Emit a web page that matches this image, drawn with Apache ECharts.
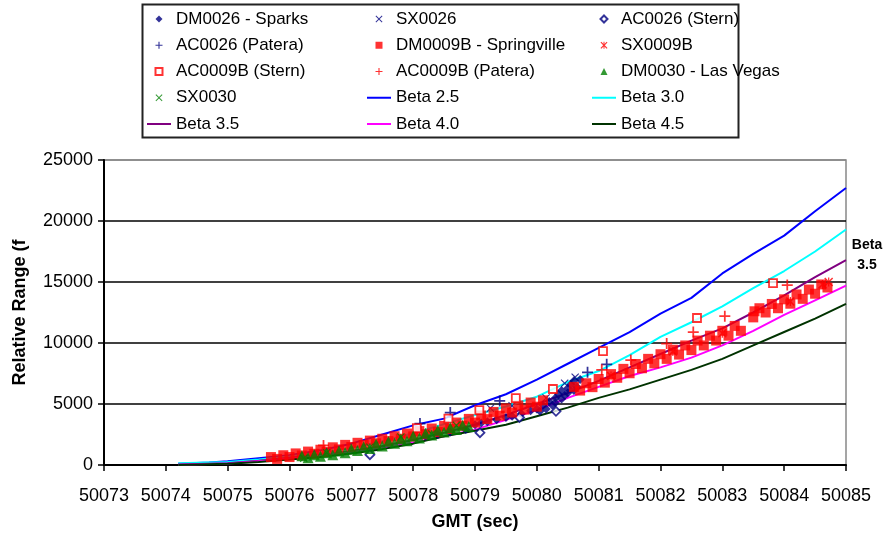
<!DOCTYPE html>
<html><head><meta charset="utf-8">
<script src="https://cdn.jsdelivr.net/npm/echarts@6/dist/echarts.min.js"></script>
<style>html,body{margin:0;padding:0;background:#fff}#c{width:883px;height:538px}</style>
</head><body><div id="c"></div>
<script>
// ---------- DATA ----------
const xTicks = [50073,50074,50075,50076,50077,50078,50079,50080,50081,50082,50083,50084,50085];
const yTicks = [0,5000,10000,15000,20000,25000];

const dm0026 = [[50078.2,2350],[50078.4,2500],[50078.6,2700],[50078.85,2900],[50079.0,3300],[50079.1,3450],[50079.2,3550],[50079.35,3700],[50079.5,3900],[50079.6,4000],[50079.75,4200],[50079.9,4450],[50080.0,4600],[50080.05,4400],[50080.1,4900],[50080.15,4600],[50080.2,5200],[50080.25,4900],[50080.3,5500],[50080.3,5100],[50080.35,5800],[50080.4,5400],[50080.4,6100],[50080.45,5700],[50080.5,6300],[50080.5,5900],[50080.55,6600],[50080.6,6100],[50080.6,6900],[50080.65,6400],[50080.7,7000]];
const sx0026 = [[50079.25,4650],[50079.6,4850],[50080.15,5500],[50080.45,6700],[50080.62,7200]];
const ac0026Stern = [[50077.3,850],[50079.08,2650],[50079.72,3900],[50080.31,4400]];
const ac0026Patera = [[50078.11,3400],[50078.6,4300],[50079.4,5250],[50080.82,7600],[50081.13,8250]];
const dm0009B = [
 [50075.7,650],[50075.8,500],[50075.9,800],[50076.0,650],[50076.1,950],[50076.2,780],[50076.3,1100],[50076.4,920],[50076.5,1250],[50076.6,1080],
 [50076.7,1450],[50076.8,1280],[50076.9,1650],[50077.0,1480],[50077.1,1820],[50077.2,1640],[50077.3,2000],[50077.4,1780],[50077.5,2150],[50077.6,1960],
 [50077.7,2360],[50077.8,2150],[50077.9,2580],[50078.0,2340],[50078.1,2780],[50078.2,2520],[50078.3,2990],[50078.4,2700],[50078.5,3200],[50078.6,2950],
 [50078.7,3480],[50078.8,3220],[50078.9,3780],[50079.0,3480],[50079.1,4060],[50079.2,3760],[50079.3,4350],[50079.4,4040],[50079.5,4640],[50079.6,4300],
 [50079.7,4880],[50079.8,4540],[50079.9,5120],[50080.0,4780],[50080.1,5300],
 [50080.6,6400],[50080.7,6100],[50080.8,6700],[50080.9,6380],[50081.0,7050],[50081.1,6750],[50081.2,7450],[50081.3,7150],[50081.4,7880],[50081.5,7520],
 [50081.6,8280],[50081.7,7930],[50081.8,8700],[50081.9,8330],[50082.0,9080],[50082.1,8700],[50082.2,9450],[50082.3,9050],[50082.4,9800],[50082.5,9420],
 [50082.6,10200],[50082.7,9800],[50082.8,10600],[50082.9,10200],[50083.0,11000],[50083.1,10600],[50083.2,11400],[50083.3,11000],
 [50083.5,12100],[50083.52,12600],[50083.6,12850],[50083.7,12500],[50083.8,13200],[50083.9,12850],[50084.0,13580],[50084.1,13220],[50084.2,13980],[50084.3,13620],
 [50084.4,14380],[50084.5,14040],[50084.6,14800],[50084.7,14550]];
const sx0009B = [[50081.2,7300],[50082.2,9300],[50083.0,10800],[50084.1,13400],[50084.62,14800],[50084.72,15000]];
const ac0009BStern = [[50078.06,3030],[50078.57,3800],[50079.07,4500],[50079.66,5480],[50080.26,6230],[50081.07,9340],[50082.59,12050],[50083.82,14900]];
const ac0009BPatera = [[50076.55,1600],[50081.05,7800],[50081.52,8600],[50082.1,9950],[50082.53,10900],[50083.04,12200],[50084.05,14750]];
const dm0030 = [[50076.2,750],[50076.3,600],[50076.4,850],[50076.5,720],[50076.6,1000],[50076.7,850],[50076.8,1150],[50076.9,1000],[50077.0,1320],[50077.1,1180],
 [50077.2,1500],[50077.3,1350],[50077.4,1720],[50077.5,1560],[50077.6,1930],[50077.7,1780],[50077.8,2130],[50077.9,1980],[50078.0,2380],[50078.1,2220],
 [50078.2,2600],[50078.3,2450],[50078.4,2850],[50078.5,2700],[50078.6,3050],[50078.7,2900],[50078.8,3250],[50078.9,3150]];
const sx0030 = [[50076.23,550],[50076.6,1000],[50077.3,1450],[50077.8,2300],[50078.3,2550],[50078.7,3250]];

const beta25 = [[50074.2,100],[50074.7,200],[50075.0,300],[50075.5,550],[50076.0,800],[50076.5,1200],[50077.0,1750],[50077.5,2500],[50078.0,3250],[50078.5,3800],[50079.0,4900],[50079.5,5800],[50080.0,7000],[50080.5,8300],[50081.0,9600],[50081.5,10900],[50082.0,12400],[50082.5,13700],[50083.0,15700],[50083.5,17300],[50084.0,18800],[50084.5,20800],[50085.0,22700]];
const beta30 = [[50074.2,150],[50075.0,250],[50075.5,450],[50076.0,700],[50076.5,1000],[50077.0,1400],[50077.5,1950],[50078.0,2600],[50078.5,3350],[50079.0,4100],[50079.5,4800],[50080.0,5600],[50080.5,6800],[50081.0,7700],[50081.5,9000],[50082.0,10500],[50082.5,11700],[50083.0,13000],[50083.5,14500],[50084.0,15900],[50084.5,17500],[50085.0,19300]];
const beta35 = [[50074.2,50],[50075.0,150],[50075.5,350],[50076.0,600],[50076.5,850],[50077.0,1150],[50077.5,1550],[50078.0,2050],[50078.5,2650],[50079.0,3300],[50079.5,4100],[50080.0,5000],[50080.5,5900],[50081.0,6900],[50081.5,8000],[50082.0,9100],[50082.5,10200],[50083.0,11200],[50083.5,12500],[50084.0,13900],[50084.5,15400],[50085.0,16800]];
const beta40 = [[50074.2,30],[50075.0,120],[50075.5,300],[50076.0,500],[50076.5,750],[50077.0,1050],[50077.5,1400],[50078.0,1850],[50078.5,2350],[50079.0,2900],[50079.5,3700],[50080.0,4500],[50080.5,5500],[50081.0,6400],[50081.5,7300],[50082.0,8000],[50082.5,8800],[50083.0,9800],[50083.5,11000],[50084.0,12300],[50084.5,13500],[50085.0,14700]];
const beta45 = [[50074.2,0],[50075.0,100],[50075.5,250],[50076.0,450],[50076.5,650],[50077.0,950],[50077.5,1300],[50078.0,1750],[50078.5,2350],[50079.0,2800],[50079.5,3300],[50080.0,4000],[50080.5,4700],[50081.0,5500],[50081.5,6200],[50082.0,7000],[50082.5,7800],[50083.0,8700],[50083.5,9800],[50084.0,10900],[50084.5,12000],[50085.0,13200]];

// ---------- CHART ----------
const FONT = '"Liberation Sans", Arial, sans-serif';
const DIAMOND = 'path://M5,0L10,5L5,10L0,5Z';
const SQUARE = 'path://M0,0H10V10H0Z';
const TRI = 'path://M5,0L10,10H0Z';
const X_PATH = 'path://M0,1L1,0L5,4L9,0L10,1L6,5L10,9L9,10L5,6L1,10L0,9L4,5Z';
const PLUS_PATH = 'path://M4.2,0H5.8V4.2H10V5.8H5.8V10H4.2V5.8H0V4.2H4.2Z';
const AST_PATH = 'path://M0,1.2L1.2,0L5,3.8L8.8,0L10,1.2L6.2,5L10,8.8L8.8,10L5,6.2L1.2,10L0,8.8L3.8,5Z M4.3,0H5.7V10H4.3Z';
const LINE_ICON = 'path://M0,0H24V2H0Z';

function sc(name, data, symbol, size, color, extra) {
  return Object.assign({
    type: 'scatter', name, data, symbol, symbolSize: size,
    itemStyle: { color }, z: 3, animation: false
  }, extra || {});
}
function ln(name, data, color, extra) {
  return Object.assign({
    type: 'line', name, data, symbol: 'none', showSymbol: false,
    lineStyle: { color, width: 2 }, itemStyle: { color }, z: 2, animation: false
  }, extra || {});
}

const series = [
  sc('DM0026 - Sparks', dm0026, DIAMOND, 9, '#000080'),
  sc('SX0026', sx0026, X_PATH, 8, '#000080'),
  sc('AC0026 (Stern)', ac0026Stern, DIAMOND, 9, '#ffffff', { itemStyle: { color: '#ffffff', borderColor: '#000080', borderWidth: 1.8 } }),
  sc('AC0026 (Patera)', ac0026Patera, PLUS_PATH, 11, '#000080'),
  sc('DM0009B - Springville', dm0009B, SQUARE, 10, '#ff0000'),
  sc('SX0009B', sx0009B, AST_PATH, 9, '#ff0000'),
  sc('AC0009B (Stern)', ac0009BStern, SQUARE, 8, '#ffffff', { itemStyle: { color: '#ffffff', borderColor: '#ff0000', borderWidth: 1.8 } }),
  sc('AC0009B (Patera)', ac0009BPatera, PLUS_PATH, 11, '#ff0000'),
  sc('DM0030 - Las Vegas', dm0030, TRI, 11, '#008000'),
  sc('SX0030', sx0030, X_PATH, 8, '#008000'),
  ln('Beta 2.5', beta25, '#0000ff'),
  ln('Beta 3.0', beta30, '#00ffff'),
  ln('Beta 3.5', beta35, '#800080', {
    endLabel: { show: true, formatter: 'Beta\n3.5', fontFamily: FONT, fontWeight: 'bold', fontSize: 14,
      lineHeight: 20, color: '#000', align: 'center', offset: [13, -5] }
  }),
  ln('Beta 4.0', beta40, '#ff00ff'),
  ln('Beta 4.5', beta45, '#003300')
];

function legendCol(left, names) {
  return {
    orient: 'vertical', left, top: 10, padding: 0,
    itemWidth: 24, itemHeight: 7, itemGap: 8.25,
    data: names.map(n => n.indexOf('Beta') === 0 ? { name: n, icon: LINE_ICON } : n),
    textStyle: { fontFamily: FONT, fontSize: 17, color: '#000', lineHeight: 18 }
  };
}

const option = {
  backgroundColor: '#fff',
  animation: false,
  legend: [
    legendCol(147, ['DM0026 - Sparks', 'AC0026 (Patera)', 'AC0009B (Stern)', 'SX0030', 'Beta 3.5']),
    legendCol(367, ['SX0026', 'DM0009B - Springville', 'AC0009B (Patera)', 'Beta 2.5', 'Beta 4.0']),
    legendCol(592, ['AC0026 (Stern)', 'SX0009B', 'DM0030 - Las Vegas', 'Beta 3.0', 'Beta 4.5'])
  ],
  graphic: [{
    type: 'rect', left: 140, top: 2, silent: true,
    shape: { width: 596, height: 133 },
    style: { fill: 'none', stroke: '#222', lineWidth: 2 }
  }],
  grid: { left: 104, right: 37, top: 160, bottom: 73, show: true, borderColor: '#888', borderWidth: 1.5 },
  xAxis: {
    type: 'value', min: xTicks[0], max: xTicks[xTicks.length - 1], interval: 1,
    name: 'GMT (sec)', nameLocation: 'middle', nameGap: 48,
    nameTextStyle: { fontFamily: FONT, fontSize: 18, fontWeight: 'bold', color: '#000' },
    axisLine: { lineStyle: { color: '#000', width: 2 } },
    axisTick: { show: true, length: 6, lineStyle: { color: '#000', width: 1.5 } },
    axisLabel: { fontFamily: FONT, fontSize: 18, color: '#000', margin: 22, formatter: v => String(v) },
    splitLine: { show: false }
  },
  yAxis: {
    type: 'value', min: yTicks[0], max: yTicks[yTicks.length - 1], interval: 5000,
    name: 'Relative Range (ft)', nameLocation: 'middle', nameGap: 75,
    nameTruncate: { maxWidth: 150, ellipsis: '' },
    nameTextStyle: { fontFamily: FONT, fontSize: 18, fontWeight: 'bold', color: '#000' },
    axisLine: { show: true, lineStyle: { color: '#000', width: 2 } },
    axisTick: { show: true, length: 6, lineStyle: { color: '#000', width: 1.5 } },
    axisLabel: { fontFamily: FONT, fontSize: 18, color: '#000', margin: 11, formatter: v => String(v) },
    splitLine: { show: true, lineStyle: { color: ['#000', '#000', '#000', '#000', '#000', '#888'], width: 1.5 } }
  },
  series
};

const chart = echarts.init(document.getElementById('c'), null, { renderer: 'canvas' });
chart.setOption(option);
</script>
</body></html>
